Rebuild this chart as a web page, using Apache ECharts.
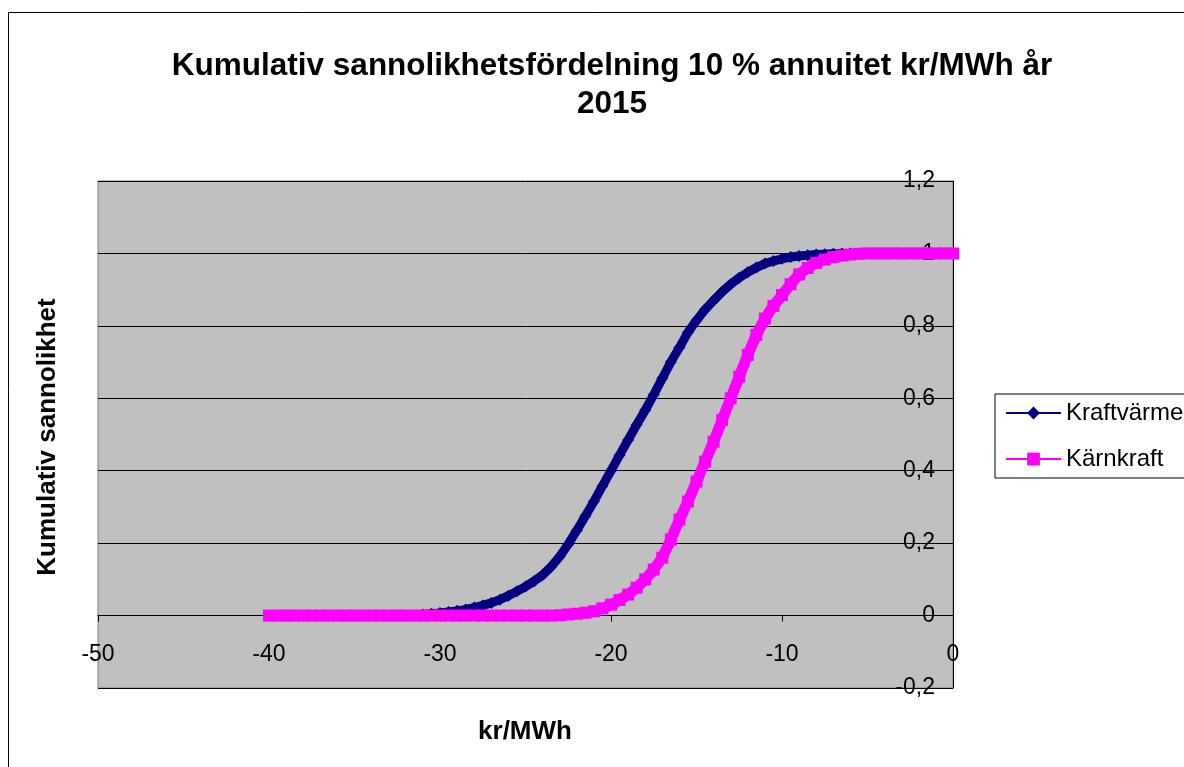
<!DOCTYPE html>
<html>
<head>
<meta charset="utf-8">
<script src="https://cdn.jsdelivr.net/npm/echarts@6/dist/echarts.min.js"></script>
<style>
  html, body { margin: 0; padding: 0; background: #fff; }
  #chart { width: 1184px; height: 767px; }
</style>
</head>
<body>
<div id="chart"></div>
<script>
// Cost per MWh (kr/MWh), sample grid shared by both series
const costKrPerMWh = [
  -40, -39.5, -39, -38.5, -38, -37.5, -37, -36.5, -36, -35.5,
  -35, -34.5, -34, -33.5, -33, -32.5, -32, -31.5, -31, -30.5,
  -30, -29.5, -29, -28.5, -28, -27.5, -27, -26.5, -26, -25.5,
  -25, -24.5, -24, -23.5, -23, -22.5, -22, -21.5, -21, -20.5,
  -20, -19.5, -19, -18.5, -18, -17.5, -17, -16.5, -16, -15.5,
  -15, -14.5, -14, -13.5, -13, -12.5, -12, -11.5, -11, -10.5,
  -10, -9.5, -9, -8.5, -8, -7.5, -7, -6.5, -6, -5.5,
  -5, -4.5, -4, -3.5, -3, -2.5, -2, -1.5, -1, -0.5,
  0
];

// Cumulative probability, combined heat and power
const kraftvarme = [
  0, 0, 0, 0, 0, 0, 0, 0, 0, 0,
  0, 0, 0, 0, 0, 0, 0, 0, 0.003, 0.005,
  0.007, 0.010, 0.013, 0.017, 0.022, 0.028, 0.035, 0.044, 0.055, 0.067,
  0.080, 0.095, 0.112, 0.135, 0.163, 0.197, 0.235, 0.275, 0.315, 0.358,
  0.400, 0.443, 0.485, 0.527, 0.567, 0.610, 0.655, 0.700, 0.740, 0.782,
  0.815, 0.845, 0.870, 0.894, 0.915, 0.933, 0.948, 0.961, 0.972, 0.979,
  0.985, 0.990, 0.993, 0.995, 0.997, 0.998, 0.999, 1, 1, 1,
  1, 1, 1, 1, 1, 1, 1, 1, 1, 1,
  1
];

// Cumulative probability, nuclear power
const karnkraft = [
  0, 0, 0, 0, 0, 0, 0, 0, 0, 0,
  0, 0, 0, 0, 0, 0, 0, 0, 0, 0,
  0, 0, 0, 0, 0, 0, 0, 0, 0, 0,
  0, 0, 0, 0, 0.001, 0.003, 0.005, 0.008, 0.012, 0.020,
  0.030, 0.043, 0.058, 0.077, 0.100, 0.127, 0.160, 0.210, 0.265, 0.315,
  0.370, 0.425, 0.480, 0.540, 0.600, 0.660, 0.720, 0.775, 0.820, 0.855,
  0.885, 0.915, 0.942, 0.960, 0.974, 0.983, 0.990, 0.994, 0.997, 0.999,
  1, 1, 1, 1, 1, 1, 1, 1, 1, 1,
  1
];

const seriesNames = ['Kraftvärme', 'Kärnkraft'];
const titleLines = ['Kumulativ sannolikhetsfördelning 10 % annuitet kr/MWh år', '2015'];
const xAxisTitle = 'kr/MWh';
const yAxisTitle = 'Kumulativ sannolikhet';

const pairs = ys => costKrPerMWh.map((x, i) => [x, ys[i]]);
const FONT = '"Liberation Sans", Arial, sans-serif';

// Plot box and value range of the probability axis
const GRID = { left: 98, right: 231, top: 181, bottom: 79 };
const Y_MIN = -0.2, Y_MAX = 1.2;
const plotHeight = 767 - GRID.top - GRID.bottom;
// The cost axis crosses the probability axis at 0
const xAxisOffset = -plotHeight * (0 - Y_MIN) / (Y_MAX - Y_MIN);

const chart = echarts.init(document.getElementById('chart'), null, { renderer: 'canvas' });

chart.setOption({
  animation: false,
  backgroundColor: '#ffffff',
  textStyle: { fontFamily: FONT },
  grid: {
    left: GRID.left, right: GRID.right, top: GRID.top, bottom: GRID.bottom,
    show: true,
    backgroundColor: '#c0c0c0',
    borderColor: '#808080',
    borderWidth: 1
  },
  legend: {
    orient: 'vertical',
    left: 995, top: 394,
    padding: [7, 80, 7, 10],
    itemWidth: 55, itemHeight: 16, itemGap: 22,
    backgroundColor: '#ffffff',
    borderColor: '#000000', borderWidth: 1, borderRadius: 0,
    lineStyle: { width: 2 },
    textStyle: { fontFamily: FONT, fontSize: 24, color: '#000' },
    data: seriesNames
  },
  xAxis: {
    type: 'value',
    min: -50, max: 0, interval: 10,
    offset: xAxisOffset,
    axisLine: { show: true, onZero: false, lineStyle: { color: '#000', width: 1 } },
    axisTick: { show: true, inside: false, length: 6, lineStyle: { color: '#000' } },
    axisLabel: { color: '#000', fontSize: 23, fontFamily: FONT, margin: 28 },
    splitLine: { show: false },
    minorSplitLine: { show: false }
  },
  yAxis: {
    type: 'value',
    position: 'right',
    min: Y_MIN, max: Y_MAX, interval: 0.2,
    axisLine: { show: true, lineStyle: { color: '#000', width: 1 } },
    axisTick: { show: true, inside: true, length: 8, lineStyle: { color: '#000' } },
    axisLabel: {
      inside: true, margin: 18, color: '#000', fontSize: 23, fontFamily: FONT,
      formatter: v => String(Math.round(v * 10) / 10).replace('.', ',')
    },
    splitLine: { show: true, lineStyle: { color: '#000', width: 1 } }
  },
  graphic: [
    {
      type: 'rect', silent: true, z: -10,
      shape: { x: 8.5, y: 12.5, width: 1300, height: 900 },
      style: { fill: 'none', stroke: '#000', lineWidth: 1 }
    },
    {
      type: 'text', silent: true,
      x: 612, y: 66,
      style: { text: titleLines[0], font: 'bold 31.5px ' + FONT, fill: '#000', align: 'center', verticalAlign: 'middle' }
    },
    {
      type: 'text', silent: true,
      x: 612, y: 104,
      style: { text: titleLines[1], font: 'bold 31.5px ' + FONT, fill: '#000', align: 'center', verticalAlign: 'middle' }
    },
    {
      type: 'text', silent: true,
      x: 48, y: 437, rotation: Math.PI / 2,
      style: { text: yAxisTitle, font: 'bold 26px ' + FONT, fill: '#000', align: 'center', verticalAlign: 'middle' }
    },
    {
      type: 'text', silent: true,
      x: 525, y: 732,
      style: { text: xAxisTitle, font: 'bold 26px ' + FONT, fill: '#000', align: 'center', verticalAlign: 'middle' }
    }
  ],
  series: [
    {
      name: seriesNames[0],
      type: 'line',
      data: pairs(kraftvarme),
      clip: false,
      showSymbol: true,
      symbol: 'diamond',
      symbolSize: 12,
      itemStyle: { color: '#000080' },
      lineStyle: { color: '#000080', width: 9 },
      z: 3
    },
    {
      name: seriesNames[1],
      type: 'line',
      data: pairs(karnkraft),
      showSymbol: true,
      symbol: 'rect',
      symbolSize: 12,
      itemStyle: { color: '#ff00ff' },
      lineStyle: { color: '#ff00ff', width: 11 },
      z: 4
    }
  ]
});
</script>
</body>
</html>
